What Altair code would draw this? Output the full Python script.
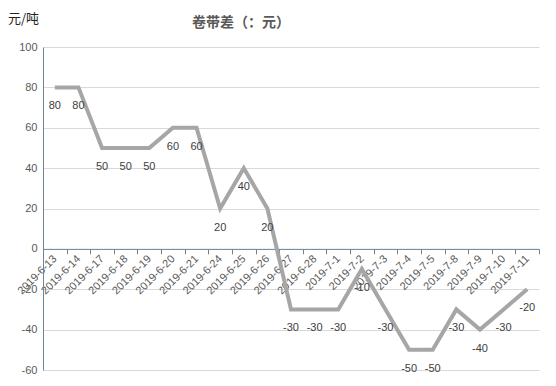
import altair as alt
import pandas as pd

dates = ["2019-6-13", "2019-6-14", "2019-6-17", "2019-6-18", "2019-6-19", "2019-6-20",
         "2019-6-21", "2019-6-24", "2019-6-25", "2019-6-26", "2019-6-27", "2019-6-28",
         "2019-7-1", "2019-7-2", "2019-7-3", "2019-7-4", "2019-7-5", "2019-7-8",
         "2019-7-9", "2019-7-10", "2019-7-11"]
values = [80, 80, 50, 50, 50, 60, 60, 20, 40, 20, -30, -30, -30, -10, -30, -50, -50,
          -30, -40, -30, -20]
title_text = "卷带差（：元）"
unit_text = "元/吨"

df = pd.DataFrame({"date": dates, "value": values})
df["label"] = [str(v) for v in values]

W, H = 496, 323
ymin, ymax = -60, 100

x = alt.X("date:N", sort=None,
          scale=alt.Scale(paddingInner=0, paddingOuter=0),
          axis=alt.Axis(title=None, labelAngle=-45, labelAlign="right", labelBaseline="middle",
                        labelColor="#595959", labelFontSize=11, labelPadding=3,
                        tickBand="extent", tickColor="#6b8599", tickSize=5,
                        domainColor="#6b8599", grid=False,
                        offset=-(0 - ymin) / (ymax - ymin) * H))
y = alt.Y("value:Q",
          scale=alt.Scale(domain=[ymin, ymax], nice=False),
          axis=alt.Axis(values=list(range(-60, 101, 20)), title=None,
                        labelExpr="datum.value + ''",
                        labelColor="#595959", labelFontSize=11, labelPadding=6,
                        ticks=False, domainColor="#6b8599", gridColor="#d9d9d9"))

line = alt.Chart(df).mark_line(color="#a6a6a6", strokeWidth=4).encode(x=x, y=y)
labels = alt.Chart(df).mark_text(dy=19, fontSize=11, color="#404040").encode(
    x=alt.X("date:N", sort=None), y=alt.Y("value:Q"), text=alt.Text("label:N"))

title = alt.Chart(pd.DataFrame({"t": [title_text]})).mark_text(
    fontSize=14, fontWeight="bold", color="#595959", font="Noto Sans CJK SC",
    align="center", baseline="middle").encode(
    x=alt.value(198), y=alt.value(-24), text="t:N")
unit = alt.Chart(pd.DataFrame({"t": [unit_text]})).mark_text(
    fontSize=13, color="#222222", font="Noto Sans CJK SC",
    align="left", baseline="middle").encode(
    x=alt.value(-35), y=alt.value(-28), text="t:N")

chart = (alt.layer(line, labels, title, unit)
         .properties(width=W, height=H,
                     autosize=alt.AutoSizeParams(type="none"),
                     padding={"left": 35, "top": 39, "right": 5, "bottom": 8})
         .configure(font="Liberation Sans")
         .configure_view(stroke=None))

chart.save("out.html", embed_options={"renderer": "svg", "actions": False})
